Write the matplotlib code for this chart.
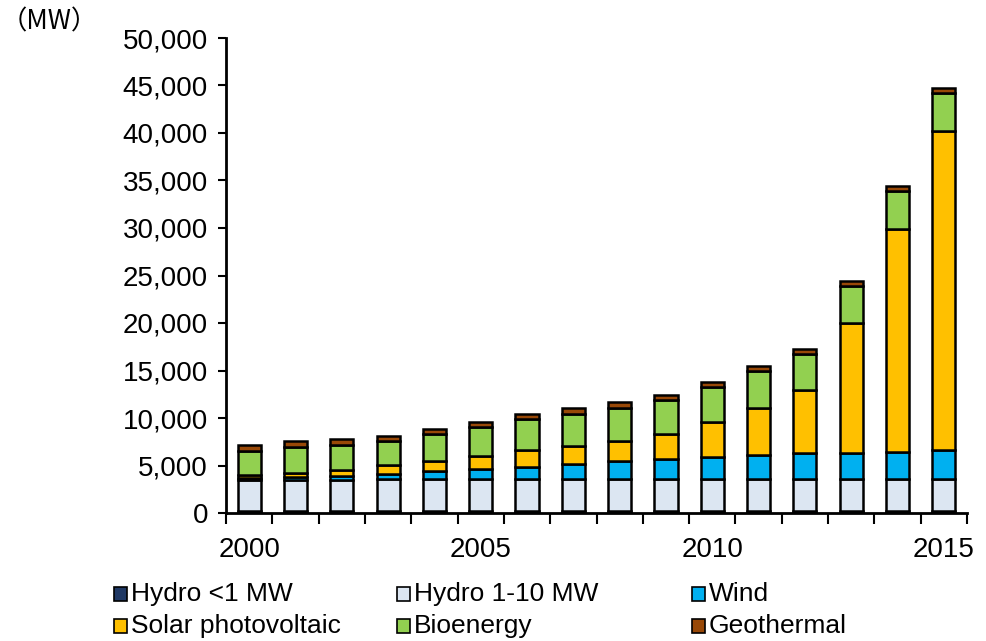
import matplotlib.pyplot as plt
import matplotlib.font_manager as fm
from matplotlib.patches import Rectangle
from matplotlib.ticker import FuncFormatter
import numpy as np

years = list(range(2000, 2016))
year_labels = ['2000', '2005', '2010', '2015']

# capacity in MW
hydro_small = [210, 210, 210, 210, 210, 210, 210, 210, 210, 210, 210, 210, 210, 210, 210, 210]
hydro_mid = [3290, 3300, 3310, 3330, 3340, 3350, 3360, 3370, 3380, 3390, 3390, 3390, 3380, 3380, 3380, 3390]
wind = [140, 300, 400, 520, 880, 1050, 1290, 1580, 1900, 2070, 2320, 2490, 2700, 2740, 2870, 3080]
solar = [330, 450, 600, 950, 1090, 1440, 1730, 1920, 2140, 2670, 3680, 4990, 6670, 13710, 23410, 33520]
bio = [2600, 2700, 2660, 2590, 2800, 2980, 3290, 3370, 3440, 3510, 3620, 3830, 3790, 3900, 4000, 4030]
geo = [560, 600, 600, 530, 520, 560, 530, 600, 590, 530, 560, 550, 520, 520, 590, 530]

names = ['Hydro <1 MW', 'Hydro 1-10 MW', 'Wind', 'Solar photovoltaic', 'Bioenergy', 'Geothermal']
colors = ['#1F3864', '#DCE6F2', '#00B0F0', '#FFC000', '#92D050', '#984807']
series = [hydro_small, hydro_mid, wind, solar, bio, geo]

installed = {f.name for f in fm.fontManager.ttflist}
narrow = 'Liberation Sans Narrow' if 'Liberation Sans Narrow' in installed else 'Liberation Sans'

fig = plt.figure(figsize=(9.86, 6.41), dpi=100)
ax = fig.add_axes([226 / 986, 1 - 513 / 641, (967 - 226) / 986, (513 - 38) / 641])

x = np.arange(len(years))
bottom = np.zeros(len(years))
for vals, c in zip(series, colors):
    ax.bar(x, vals, bottom=bottom, width=0.5, color=c, edgecolor='black', linewidth=1.8, zorder=3)
    bottom += np.array(vals)

ax.set_xlim(-0.5, len(years) - 0.5)
ax.set_ylim(0, 50000)
ax.set_yticks(range(0, 50001, 5000))
ax.yaxis.set_major_formatter(FuncFormatter(lambda v, p: f'{int(v):,}'))
for lab in ax.get_yticklabels():
    lab.set_fontfamily('Liberation Sans')
    lab.set_fontsize(20)
ax.tick_params(axis='y', direction='out', length=6, width=1.5, pad=7)

ax.set_xticks(np.arange(-0.5, len(years), 1))
ax.set_xticklabels([])
ax.tick_params(axis='x', which='major', direction='out', length=8, width=1.5)
ax.set_xticks([years.index(int(y)) for y in year_labels], minor=True)
ax.set_xticklabels(year_labels, minor=True, fontsize=20, fontfamily=narrow)
ax.tick_params(axis='x', which='minor', length=0, pad=17)

for s in ['top', 'right']:
    ax.spines[s].set_visible(False)
for s in ['left', 'bottom']:
    ax.spines[s].set_linewidth(2)

fig.text(1 / 986, 1 - 22 / 641, '（MW）', fontsize=19, va='center', ha='left',
         family=['Noto Sans CJK JP', 'DejaVu Sans'])

# legend laid out in a 3 x 2 grid below the chart
col_x = [114, 397, 692]
row_y = [594, 626]
for i, (n, c) in enumerate(zip(names, colors)):
    px = col_x[i % 3]
    py = row_y[i // 3]
    fig.patches.append(Rectangle((px / 986, 1 - (py + 7) / 641), 13 / 986, 14 / 641,
                                 facecolor=c, edgecolor='black', linewidth=1.2,
                                 transform=fig.transFigure, figure=fig))
    fig.text((px + 17) / 986, 1 - py / 641, n, fontsize=19, va='center', ha='left', family=narrow)

fig.savefig('out.png', dpi=100)
